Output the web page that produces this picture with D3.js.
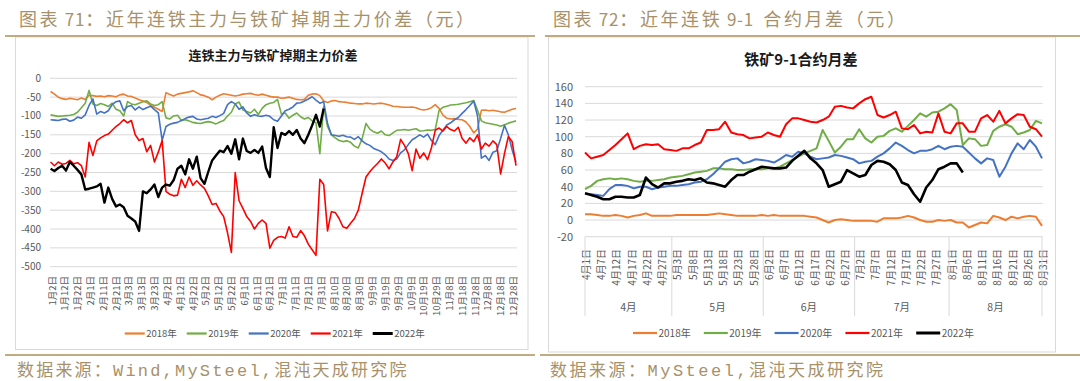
<!DOCTYPE html>
<html><head><meta charset="utf-8">
<script src="https://cdn.jsdelivr.net/npm/d3@7"></script>
<style>body{margin:0;background:#fff}svg{display:block}</style>
</head><body><svg id="c" width="1080" height="381"></svg>
<script>
// ---------------- DATA ----------------
const seriesNames = ["2018年","2019年","2020年","2021年","2022年"];
const seriesColors = ["#ED7D31","#70AD47","#4472C4","#FF0000","#000000"];

// Left chart: daily categories 1/2 .. 12/31, values sampled every 3rd category
const leftStep = 3;
const leftYTicks = [0,-50,-100,-150,-200,-250,-300,-350,-400,-450,-500];
const leftTickLabels = ["1月2日","1月12日","1月22日","2月1日","2月11日","2月21日","3月3日","3月13日","3月23日","4月2日","4月12日","4月22日","5月2日","5月12日","5月22日","6月1日","6月11日","6月21日","7月1日","7月11日","7月21日","7月31日","8月10日","8月20日","8月30日","9月9日","9月19日","9月29日","10月9日","10月19日","10月29日","11月8日","11月18日","11月28日","12月8日","12月18日","12月28日"];
const left2018 = [-35,-42,-50,-54,-56,-53,-55,-57,-52,-56,
 -45,-46,-48,-47,-49,-46,-47,-49,-44,-42,
 -47,-48,-52,-57,-60,-64,-72,-77,-82,-88,
 -38,-43,-47,-42,-40,-38,-36,-33,-38,-44,
 -46,-50,-57,-50,-45,-41,-43,-45,-47,-45,
 -42,-41,-40,-43,-45,-42,-45,-48,-50,-50,
 -53,-52,-50,-53,-56,-57,-56,-45,-42,-41,
 -46,-60,-64,-60,-59,-62,-63,-64,-66,-67,
 -68,-68,-66,-67,-68,-67,-66,-68,-71,-74,
 -75,-76,-77,-77,-76,-78,-82,-84,-82,-78,
 -70,-80,-98,-106,-108,-107,-109,-110,-116,-128,
 -145,-135,-85,-84,-86,-85,-87,-89,-90,-86,-82,-80];
const left2019 = [-97,-99,-101,-100,-99,-98,-96,-90,-78,-66,
 -32,-68,-72,-67,-70,-75,-66,-82,-86,-100,
 -62,-68,-70,-66,-62,-60,-68,-72,-70,-62,
 -105,-108,-100,-98,-112,-110,-113,-117,-119,-120,
 -117,-115,-117,-121,-116,-112,-100,-90,-68,-63,
 -84,-88,-92,-82,-96,-80,-70,-66,-64,-56,
 -95,-92,-106,-98,-92,-102,-108,-104,-113,-118,
 -200,-75,-128,-150,-158,-165,-168,-166,-170,-180,
 -185,-160,-120,-135,-142,-146,-140,-150,-152,-145,
 -138,-137,-136,-138,-136,-134,-140,-139,-137,-138,
 -136,-85,-77,-74,-71,-70,-69,-67,-65,-62,
 -59,-85,-113,-118,-120,-122,-124,-127,-123,-119,-116,-113];
const left2020 = [-110,-111,-112,-109,-108,-114,-111,-103,-106,-97,
 -72,-55,-95,-88,-92,-86,-70,-62,-60,-86,
 -75,-72,-84,-76,-83,-78,-74,-83,-92,-165,
 -128,-122,-119,-117,-112,-107,-103,-101,-108,-110,
 -108,-106,-101,-104,-99,-93,-70,-62,-68,-82,
 -76,-92,-101,-97,-100,-101,-98,-101,-110,-114,
 -100,-86,-82,-76,-66,-65,-60,-55,-49,-58,
 -66,-62,-120,-150,-152,-154,-151,-155,-156,-162,
 -155,-166,-174,-178,-186,-190,-195,-203,-214,-218,
 -214,-198,-190,-176,-163,-157,-150,-156,-148,-165,
 -176,-152,-138,-124,-118,-110,-104,-93,-83,-72,
 -60,-100,-212,-205,-218,-196,-192,-160,-125,-150,-190,-222];
const left2021 = [-222,-232,-222,-228,-226,-218,-227,-224,-232,-262,
 -170,-205,-166,-158,-152,-148,-138,-128,-120,-110,
 -118,-112,-150,-165,-160,-195,-178,-222,-196,-165,
 -300,-308,-312,-310,-268,-290,-262,-284,-272,-283,
 -292,-312,-335,-332,-352,-367,-410,-462,-250,-325,
 -345,-367,-380,-400,-385,-376,-385,-451,-430,-422,
 -420,-424,-394,-420,-422,-404,-418,-440,-455,-470,
 -268,-282,-405,-354,-356,-372,-394,-398,-385,-372,
 -350,-305,-262,-248,-236,-226,-214,-225,-240,-222,
 -208,-162,-178,-200,-245,-188,-212,-198,-216,-185,
 -138,-132,-140,-128,-136,-140,-130,-160,-172,-158,
 -168,-150,-188,-172,-180,-166,-176,-254,-200,-155,-168,-232];
const left2022 = [-240,-246,-238,-232,-245,-222,-232,-243,-255,-295,
 -293,-290,-287,-280,-330,-290,-320,-340,-335,-342,
 -365,-372,-380,-405,-300,-305,-295,-282,-315,-290,
 -282,-285,-270,-240,-232,-255,-215,-240,-208,-265,
 -280,-248,-218,-205,-192,-196,-180,-200,-162,-215,
 -160,-193,-198,-190,-198,-181,-238,-262,-130,-185,
 -145,-150,-140,-150,-137,-160,-172,-150,-125,-97,
 -128,-80];

// Right chart: daily categories 4/1 .. 8/31 (two holidays missing), sampled every 2nd category
const rightStep = 2;
const rightMonths = ["4月","5月","6月","7月","8月"];
const rightYTicks = [160,140,120,100,80,60,40,20,0,-20];
const rightTickLabels = ["4月1日","4月7日","4月12日","4月17日","4月22日","4月27日","5月3日","5月8日","5月13日","5月18日","5月23日","5月28日","6月2日","6月7日","6月12日","6月17日","6月22日","6月27日","7月2日","7月7日","7月12日","7月17日","7月22日","7月27日","8月1日","8月6日","8月11日","8月16日","8月21日","8月26日","8月31日"];
const right2018 = [7,7,6,5,5,6,5,3,5,6,8,5,5,5,5,6,6,6,6,6,
 6,7,8,7,6,5,5,5,5,6,5,6,5,5,5,5,5,4,
 3,0,-3,0,1,0,-1,-1,-1,-1,-2,2,2,2,3,5,3,0,-2,-2,
 0,-1,0,-3,-3,-9,-6,-3,-4,5,3,0,4,2,4,5,4,-7];
const right2019 = [37,41,47,49,50,49,50,49,47,46,47,47,48,49,51,52,53,55,57,58,
 59,62,62,61,61,60,60,61,61,61,62,62,64,68,72,76,80,83,
 86,108,95,81,88,97,97,109,98,93,100,101,107,110,106,113,120,128,124,129,
 130,134,139,132,90,98,97,89,90,107,112,115,112,103,105,108,119,116];
const right2020 = [32,31,30,29,37,42,42,41,38,40,40,37,39,40,41,41,42,43,45,46,
 49,55,62,70,73,74,68,70,73,72,71,69,73,78,76,82,80,76,
 73,74,75,78,77,75,73,68,70,71,76,80,86,93,89,84,80,83,83,85,
 89,85,88,89,88,81,74,68,74,72,52,64,80,92,85,96,88,74];
const right2021 = [81,74,76,78,84,90,97,104,85,89,91,90,91,85,84,83,86,86,90,93,
 108,108,109,118,105,103,102,98,99,100,105,102,100,115,122,122,120,118,
 117,120,124,136,137,135,134,140,145,148,126,123,126,130,110,109,114,104,106,105,
 128,106,104,116,116,106,106,122,126,118,131,116,122,127,126,112,109,100];
const right2022 = [32,30,28,25,25,28,28,27,27,30,51,43,39,44,44,46,47,49,48,50,
 45,44,42,40,48,54,54,58,61,64,63,62,62,63,71,77,83,74,
 68,60,40,43,46,60,56,52,54,66,71,70,67,60,45,42,31,22,39,48,
 61,64,68,68,57];

// ---------------- CATEGORIES ----------------
const monthLen = [31,28,31,30,31,30,31,31,30,31,30,31];
const leftCats = [];
for (let m = 1; m <= 12; m++) for (let d = 1; d <= monthLen[m-1]; d++) {
  if (m === 1 && d === 1) continue;
  leftCats.push(m + "月" + d + "日");
}
const rightSkip = ["4月5日","5月1日"];
const rightCats = [], rightCatMonth = [];
for (let m = 4; m <= 8; m++) for (let d = 1; d <= monthLen[m-1]; d++) {
  const c = m + "月" + d + "日";
  if (rightSkip.includes(c)) continue;
  rightCats.push(c); rightCatMonth.push(m + "月");
}

// ---------------- DRAW ----------------
const svg = d3.select("#c");
const gold = "#c2ab80", goldText = "#a8916a", axisText = "#595959", grid = "#d9d9d9";
const fontCJK = "'Noto Sans CJK SC','Noto Sans',sans-serif";
const fontMono = "'Liberation Mono','Noto Sans CJK SC',monospace";

// panel frames
[[15.5,37,512.5,312.5],[548.5,37,507,315]].forEach(r => {
  svg.append("rect").attr("x",r[0]).attr("y",r[1]).attr("width",r[2]).attr("height",r[3])
    .attr("fill","#fff").attr("stroke","#d9d9d9").attr("stroke-width",1);
});
// gold separators
[[5,535,36],[545,1080,36],[5,535,355],[540,1080,355]].forEach(l => {
  svg.append("line").attr("x1",l[0]).attr("x2",l[1]).attr("y1",l[2]).attr("y2",l[2])
    .attr("stroke",gold).attr("stroke-width",2);
});
// headings: mixed segments [text, isLatin]
function heading(x, y, parts) {
  const t = svg.append("text").attr("x",x).attr("y",y).attr("font-family",fontCJK)
    .attr("font-size",18).attr("fill",goldText);
  parts.forEach(p => {
    t.append("tspan").attr("letter-spacing",p[1]?0.8:2.6).attr("font-size",p[1]?17:18).text(p[0]);
  });
}
heading(19, 26, [["图表",false],["\u00a071",true],["：近年连铁主力与铁矿掉期主力价差（元）",false]]);
heading(553, 26, [["图表",false],["\u00a072",true],["：近年连铁",false],["\u00a09-1\u00a0\u00a0",true],["合约月差（元）",false]]);
svg.append("text").attr("x",17).attr("y",376).attr("font-family",fontMono).attr("font-size",17)
  .attr("letter-spacing",2.2).attr("fill",goldText).text("数据来源：Wind,MySteel,混沌天成研究院");
svg.append("text").attr("x",550).attr("y",376).attr("font-family",fontMono).attr("font-size",17)
  .attr("letter-spacing",2.5).attr("fill",goldText).text("数据来源：MySteel,混沌天成研究院");

// ===== LEFT CHART =====
const xL = d3.scalePoint().domain(leftCats).range([50.6,516]);
const yL = d3.scaleLinear().domain([-500,0]).range([266.7,78.3]);
const gL = svg.append("g");
gL.append("text").attr("x",273).attr("y",60).attr("text-anchor","middle").attr("font-family",fontCJK)
  .attr("font-weight","bold").attr("font-size",13).attr("fill","#1a1a1a").text("连铁主力与铁矿掉期主力价差");
gL.selectAll(".gl").data(leftYTicks).join("line").attr("x1",50).attr("x2",517)
  .attr("y1",d=>yL(d)).attr("y2",d=>yL(d)).attr("stroke",grid).attr("stroke-width",1);
gL.selectAll(".yl").data(leftYTicks).join("text").attr("x",41).attr("y",d=>yL(d)).attr("dy","0.35em")
  .attr("text-anchor","end").attr("font-family",fontCJK).attr("font-size",10).attr("fill",axisText).text(d=>d);
gL.selectAll(".xl").data(leftTickLabels).join("text")
  .attr("transform",d=>`translate(${xL(d)+1.6},276) rotate(-90)`).attr("text-anchor","end").attr("dy","0.35em")
  .attr("font-family",fontCJK).attr("font-size",9.5).attr("fill",axisText).text(d=>d);
const leftSeries = [left2018,left2019,left2020,left2021,left2022];
leftSeries.forEach((vals,si) => {
  const line = d3.line().x((d,i)=>xL(leftCats[i*leftStep])).y(d=>yL(d));
  gL.append("path").attr("d",line(vals)).attr("fill","none").attr("stroke",seriesColors[si])
    .attr("stroke-width",si===4?2.4:1.6).attr("stroke-linejoin","round");
});
seriesNames.forEach((n,i) => {
  const x0 = 124.7 + i*62;
  gL.append("line").attr("x1",x0).attr("x2",x0+20).attr("y1",333.5).attr("y2",333.5)
    .attr("stroke",seriesColors[i]).attr("stroke-width",i===4?3:2.2);
  gL.append("text").attr("x",x0+21.5).attr("y",333.5).attr("dy","0.35em").attr("font-family",fontCJK)
    .attr("font-size",9.5).attr("fill",axisText).text(n);
});

// ===== RIGHT CHART =====
const xR = d3.scalePoint().domain(rightCats).range([585,1042]);
const yR = d3.scaleLinear().domain([-20,160]).range([236.7,86.7]);
const gR = svg.append("g");
gR.append("text").attr("x",801).attr("y",64.5).attr("text-anchor","middle").attr("font-family",fontCJK)
  .attr("font-weight","bold").attr("font-size",15).attr("fill","#1a1a1a").text("铁矿9-1合约月差");
gR.selectAll(".gr").data(rightYTicks).join("line").attr("x1",585).attr("x2",1042.7)
  .attr("y1",d=>yR(d)).attr("y2",d=>yR(d)).attr("stroke",grid).attr("stroke-width",1);
gR.selectAll(".yr").data(rightYTicks).join("text").attr("x",573).attr("y",d=>yR(d)).attr("dy","0.35em")
  .attr("text-anchor","end").attr("font-family",fontCJK).attr("font-size",11).attr("fill",axisText).text(d=>d);
gR.selectAll(".xr").data(rightTickLabels).join("text")
  .attr("transform",d=>`translate(${xR(d)+1.5},249) rotate(-90)`).attr("text-anchor","end").attr("dy","0.35em")
  .attr("font-family",fontCJK).attr("font-size",10).attr("fill",axisText).text(d=>d);
// month groups
const bounds = [];
rightMonths.forEach((m,mi) => {
  const idx = rightCatMonth.map((v,i)=>v===m?i:-1).filter(i=>i>=0);
  const first = idx[0], last = idx[idx.length-1];
  const left = mi===0 ? xR(rightCats[first]) : (xR(rightCats[first-1])+xR(rightCats[first]))/2;
  const right = mi===rightMonths.length-1 ? xR(rightCats[last]) : (xR(rightCats[last])+xR(rightCats[last+1]))/2;
  bounds.push([m,left,right]);
});
const divX = [bounds[0][1]].concat(bounds.map(b=>b[2]));
gR.selectAll(".dv").data(divX).join("line").attr("x1",d=>d).attr("x2",d=>d).attr("y1",236.7).attr("y2",316)
  .attr("stroke",grid).attr("stroke-width",1);
gR.selectAll(".mt").data(bounds).join("text").attr("x",d=>(d[1]+d[2])/2).attr("y",307.5).attr("dy","0.35em")
  .attr("text-anchor","middle").attr("font-family",fontCJK).attr("font-size",10.5).attr("fill",axisText).text(d=>d[0]);
const rightSeries = [right2018,right2019,right2020,right2021,right2022];
rightSeries.forEach((vals,si) => {
  const line = d3.line().x((d,i)=>xR(rightCats[i*rightStep])).y(d=>yR(d));
  gR.append("path").attr("d",line(vals)).attr("fill","none").attr("stroke",seriesColors[si])
    .attr("stroke-width",si===4?2.6:2).attr("stroke-linejoin","round");
});
seriesNames.forEach((n,i) => {
  const x0 = 633 + i*70.8;
  gR.append("line").attr("x1",x0).attr("x2",x0+24).attr("y1",333).attr("y2",333)
    .attr("stroke",seriesColors[i]).attr("stroke-width",i===4?3:2.2);
  gR.append("text").attr("x",x0+25.5).attr("y",333).attr("dy","0.35em").attr("font-family",fontCJK)
    .attr("font-size",10).attr("fill",axisText).text(n);
});
</script></body></html>
